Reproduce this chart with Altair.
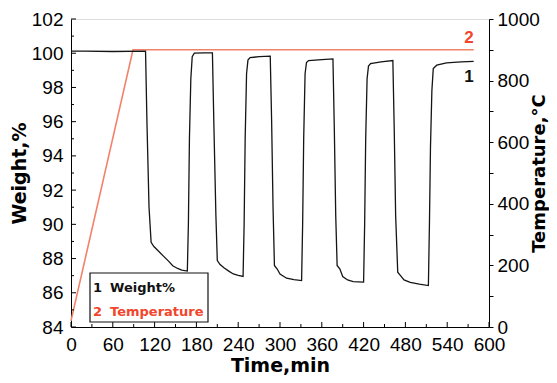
import altair as alt
import pandas as pd

# Weight % curve (time in min)
w_time = [0, 20, 60, 107, 109, 112, 115, 119, 124, 132, 140, 146, 153, 159, 167,
          168.5, 170, 172, 174, 177, 190, 203,
          205, 208, 210, 214, 220, 227, 233, 240, 247,
          248.5, 250, 252, 254, 257, 270, 286,
          288, 290, 292, 296, 300, 309.5, 320, 331,
          332.5, 334, 336, 338, 341, 360, 376,
          378, 380, 382, 386, 390, 397, 405, 420,
          421.5, 423, 425, 427, 430, 445, 462,
          464, 466, 469, 473, 478, 487, 500, 513,
          514.5, 516, 518, 520, 525, 539, 560, 578]
weight = [100.12, 100.12, 100.1, 100.12, 96.0, 91.0, 88.95, 88.7, 88.5, 88.17, 87.85, 87.58, 87.42, 87.33, 87.27,
          90.0, 95.0, 98.5, 99.8, 100.0, 100.02, 100.02,
          96.0, 90.5, 87.88, 87.65, 87.45, 87.25, 87.1, 87.02, 86.96,
          90.0, 95.0, 98.8, 99.6, 99.74, 99.8, 99.83,
          96.0, 91.0, 87.6, 87.39, 87.1, 86.85, 86.77, 86.71,
          90.0, 95.0, 98.8, 99.45, 99.57, 99.62, 99.67,
          95.5, 90.5, 87.6, 87.39, 86.95, 86.75, 86.65, 86.62,
          90.0, 95.0, 98.5, 99.25, 99.4, 99.5, 99.57,
          95.5, 90.5, 87.2, 87.0, 86.75, 86.61, 86.5, 86.42,
          90.0, 94.5, 97.8, 99.1, 99.3, 99.44, 99.5, 99.52]

# Temperature curve
t_time = [0, 89, 578]
temp = [20, 900, 900]

x_ticks = list(range(0, 601, 30))
x_major = list(range(0, 601, 60))
x_minor = list(range(30, 600, 60))
w_ticks = list(range(84, 103))
w_major = list(range(84, 103, 2))
w_minor = list(range(85, 102, 2))
t_ticks = list(range(0, 1001, 100))

legend_nums = ["1", "2"]
legend_words = ["Weight%", "Temperature"]
legend_colors = ["#111111", "#f2452c"]
curve_labels = ["2", "1"]
curve_label_colors = ["#f2452c", "#111111"]

dfw = pd.DataFrame({"time": w_time, "weight": weight, "i": range(len(w_time))})
dft = pd.DataFrame({"time": t_time, "temp": temp})
one = pd.DataFrame({"a": [0]})

LABEL_FONT = "Liberation Sans"
TITLE_FONT = "DejaVu Sans"
W_DOMAIN = [84, 102]
X_DOMAIN = [0, 600]

x_axis = alt.Axis(values=x_ticks, labelExpr="datum.value % 60 == 0 ? datum.label : ''",
                  ticks=False, labelPadding=8, title="Time,min",
                  titleFont=TITLE_FONT, titleFontSize=19, titleFontWeight="bold", titlePadding=2,
                  labelFont=LABEL_FONT, labelFontSize=19, labelColor="black",
                  domainColor="black", titleColor="black", grid=False,
                  labelFlush=False, labelOverlap=False)
x_enc = alt.X("time:Q", scale=alt.Scale(domain=X_DOMAIN, nice=False), axis=x_axis)

weight_line = alt.Chart(dfw).mark_line(color="#151515", strokeWidth=1.3).encode(
    x=x_enc,
    y=alt.Y("weight:Q", scale=alt.Scale(domain=W_DOMAIN, nice=False, zero=False),
            axis=alt.Axis(orient="left", values=w_ticks,
                          labelExpr="datum.value % 2 == 0 ? datum.label : ''",
                          ticks=False, labelPadding=8, title="Weight,%",
                          titleFont=TITLE_FONT, titleFontSize=19, titleFontWeight="bold", titlePadding=2,
                          labelFont=LABEL_FONT, labelFontSize=19, labelColor="black",
                          domainColor="black", titleColor="black", grid=False,
                          labelFlush=False, labelOverlap=False)),
    order="i:Q",
)

temp_line = alt.Chart(dft).mark_line(color="#f3826a", strokeWidth=1.6).encode(
    x=x_enc,
    y=alt.Y("temp:Q", scale=alt.Scale(domain=[0, 1000], nice=False),
            axis=alt.Axis(orient="right", values=t_ticks, format="d",
                          labelExpr="datum.value % 200 == 0 ? datum.label : ''",
                          tickSize=4, labelPadding=4, title="Temperature,°C", titleAngle=270,
                          titleBaseline="top", titleX=41,
                          titleFont=TITLE_FONT, titleFontSize=18, titleFontWeight="bold",
                          labelFont=LABEL_FONT, labelFontSize=19, labelColor="black",
                          domainColor="black", tickColor="black", titleColor="black", grid=False,
                          labelFlush=False, labelOverlap=False)),
)


# inward ticks on the bottom and left axes
def x_ticks_layer(vals, length):
    return alt.Chart(pd.DataFrame({"v": vals})).mark_rule(color="black", strokeWidth=1).encode(
        x=alt.X("v:Q", scale=alt.Scale(domain=X_DOMAIN, nice=False), axis=x_axis),
        y=alt.value(308), y2=alt.value(308 - length))


def y_ticks_layer(vals, length):
    return alt.Chart(pd.DataFrame({"v": vals})).mark_rule(color="black", strokeWidth=1).encode(
        y=alt.Y("v:Q", scale=alt.Scale(domain=W_DOMAIN, nice=False, zero=False), axis=None),
        x=alt.value(0), x2=alt.value(length))


box = alt.Chart(one).mark_rect(fill="white", stroke="#111111", strokeWidth=1.2).encode(
    x=alt.value(19), x2=alt.value(137), y=alt.value(254), y2=alt.value(303))

layers = [temp_line, weight_line,
          x_ticks_layer(x_major, 5), x_ticks_layer(x_minor, 3),
          y_ticks_layer(w_major, 5), y_ticks_layer(w_minor, 3), box]
for k, yy in enumerate([269, 293]):
    layers.append(alt.Chart(one).mark_text(align="left", baseline="middle", font=TITLE_FONT,
                                           fontWeight="bold", fontSize=13, color=legend_colors[k],
                                           text=legend_nums[k]).encode(x=alt.value(22), y=alt.value(yy)))
    layers.append(alt.Chart(one).mark_text(align="left", baseline="middle", font=TITLE_FONT,
                                           fontWeight="bold", fontSize=13, color=legend_colors[k],
                                           text=legend_words[k]).encode(x=alt.value(39), y=alt.value(yy)))
for k, yy in enumerate([19, 58]):
    layers.append(alt.Chart(one).mark_text(align="center", baseline="middle", font=LABEL_FONT,
                                           fontWeight="bold", fontSize=17, color=curve_label_colors[k],
                                           text=curve_labels[k]).encode(x=alt.value(398), y=alt.value(yy)))

chart = alt.layer(*layers).resolve_scale(y="independent").properties(
    width=418, height=308,
    autosize=alt.AutoSizeParams(type="none"),
    padding={"left": 63, "top": 11, "right": 60, "bottom": 48},
).configure_view(stroke="black", strokeWidth=1.2).configure(background="white")

chart.save("out.html", embed_options={"renderer": "svg", "actions": False})
